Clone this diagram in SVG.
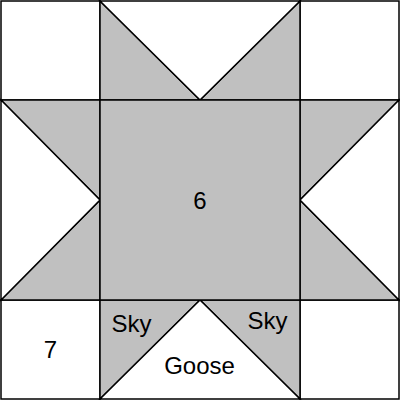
<svg xmlns="http://www.w3.org/2000/svg" width="400" height="400" viewBox="0 0 400 400">
<style>
.g{fill:#c0c0c0;stroke:#000;stroke-width:1.5;stroke-linejoin:miter}
.w{fill:#fff;stroke:#000;stroke-width:1.5}
text{font-family:"Liberation Sans",Arial,sans-serif;font-size:24px;fill:#000;text-anchor:middle}
</style>
<rect x="0" y="0" width="400" height="400" fill="#fff"/>
<g id="corners">
<rect class="w" x="1" y="1" width="99" height="99"/>
<rect class="w" x="300" y="1" width="99" height="99"/>
<rect class="w" x="1" y="300" width="99" height="99"/>
<rect class="w" x="300" y="300" width="99" height="99"/>
</g>
<g id="top">
<polygon class="g" points="100,1 100,100 200,100"/>
<polygon class="g" points="300,1 300,100 200,100"/>
<polygon class="w" points="100,1 300,1 200,100"/>
</g>
<g id="left">
<polygon class="g" points="1,100 100,100 100,200"/>
<polygon class="g" points="1,300 100,300 100,200"/>
<polygon class="w" points="1,100 1,300 100,200"/>
</g>
<g id="right">
<polygon class="g" points="399,100 300,100 300,200"/>
<polygon class="g" points="399,300 300,300 300,200"/>
<polygon class="w" points="399,100 399,300 300,200"/>
</g>
<g id="bottom">
<polygon class="g" points="100,300 100,399 200,300"/>
<polygon class="g" points="300,300 300,399 200,300"/>
<polygon class="w" points="100,399 300,399 200,300"/>
</g>
<g id="center">
<rect class="g" x="100" y="100" width="200" height="200"/>
</g>
<g id="labels">
<text x="200" y="209">6</text>
<text x="50.5" y="358">7</text>
<text x="131.5" y="332">Sky</text>
<text x="267.5" y="329">Sky</text>
<text x="199.5" y="374">Goose</text>
</g>
</svg>
